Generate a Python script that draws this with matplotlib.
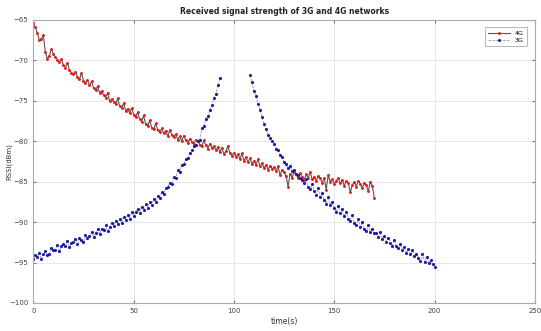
import numpy as np
import matplotlib
matplotlib.use('Agg')
import matplotlib.pyplot as plt

# 4G RSSI, one sample per second, t = 0..170
t_4g = np.arange(0, 171)
rssi_4g = [
    -65.4, -65.9, -66.6, -67.5, -67.3, -66.9, -69.0, -69.8, -69.4, -68.6, -69.2,
    -69.6, -69.9, -70.2, -69.8, -70.6, -70.9, -70.3, -71.2, -71.5, -71.7,
    -71.4, -72.0, -72.3, -71.6, -72.5, -72.8, -72.4, -73.1, -72.6, -73.4,
    -73.7, -73.2, -74.0, -73.8, -74.3, -74.6, -74.0, -75.0, -74.8, -75.1,
    -75.4, -74.7, -75.6, -75.9, -75.3, -76.2, -76.0, -76.5, -75.9, -76.7,
    -77.0, -76.4, -77.3, -77.6, -76.8, -77.9, -78.1, -77.4, -78.3, -78.5,
    -77.8, -78.6, -78.9, -78.4, -79.0, -78.7, -79.4, -78.6, -79.2, -79.5,
    -79.1, -79.8, -79.4, -80.0, -79.3, -79.9, -80.2, -79.7, -80.1, -80.3,
    -79.8, -80.0, -80.4, -80.6, -79.9, -80.5, -80.9, -80.3, -80.8, -80.6,
    -81.1, -80.7, -81.3, -80.8, -81.6, -81.2, -80.6, -81.5, -81.8, -81.4,
    -81.9, -81.6, -82.2, -81.5, -82.4, -82.0, -82.6, -82.1, -82.8, -82.4,
    -82.9, -82.2, -83.1, -82.7, -83.3, -82.9, -83.5, -83.0, -83.4, -83.2,
    -83.7, -83.1, -84.2, -83.5, -83.8, -84.3, -85.6, -84.0, -84.5, -83.8,
    -84.1, -84.6, -83.9, -84.4, -84.8, -84.1, -84.5, -83.8, -84.7, -84.4,
    -84.9, -84.3, -84.6, -85.1, -84.5, -86.0, -84.2, -85.0, -84.7, -85.3,
    -84.9, -84.5, -85.2, -84.8, -85.5, -84.9, -85.1, -86.3, -85.4, -85.0,
    -85.6, -84.9, -85.3, -85.8, -85.1, -85.4, -86.2, -85.0, -85.5, -87.0,
]

# 3G RSSI, first segment t = 0..93
t_3g_a = np.arange(0, 94)
rssi_3g_a = [
    -94.6, -94.1, -94.3, -93.8, -94.6, -94.0, -93.6, -94.1, -93.9, -93.2,
    -93.5, -93.4, -92.8, -93.6, -93.0, -92.7, -92.9, -92.3, -93.1, -92.6,
    -92.4, -92.1, -92.7, -91.9, -92.2, -92.5, -91.6, -91.9, -91.7, -91.2,
    -91.8, -91.3, -90.9, -91.5, -90.8, -91.0, -90.4, -91.1, -90.6, -90.1,
    -90.5, -89.8, -90.2, -89.6, -90.1, -89.4, -89.7, -89.1, -89.6, -88.8,
    -89.2, -88.7, -88.4, -88.9, -88.1, -88.5, -87.8, -88.2, -87.5, -87.9,
    -87.2, -87.5, -86.8, -87.0, -86.3, -86.5, -85.8, -85.7, -85.1, -85.3,
    -84.4, -84.5, -83.6, -83.8, -82.9, -82.8, -82.2, -82.1, -81.4, -81.1,
    -80.6, -80.5, -80.0, -79.8, -78.4, -78.1, -77.2, -76.9, -76.1, -75.5,
    -74.7, -74.1, -73.1, -72.2,
]

# 3G RSSI, second segment t = 108..200
t_3g_b = np.arange(108, 201)
rssi_3g_b = [
    -71.8, -72.7, -73.8, -74.4, -75.4, -76.1, -77.0, -77.9, -78.5, -79.2,
    -79.6, -80.0, -80.3, -80.9, -81.1, -81.7, -82.0, -82.6, -82.8, -83.3,
    -83.0, -83.7, -83.5, -84.1, -84.2, -84.5, -84.8, -85.2, -84.7, -85.6,
    -85.9, -85.3, -86.1, -86.6, -85.8, -86.9, -86.4, -87.3, -87.7, -86.9,
    -87.9, -87.5, -88.3, -88.7, -88.0, -88.9, -88.4, -89.3, -88.7, -89.6,
    -89.8, -89.1, -90.1, -90.3, -89.6, -90.6, -90.0, -90.8, -91.1, -90.4,
    -91.2, -90.8, -91.4, -91.3, -91.8, -91.2, -92.1, -91.7, -92.4, -91.9,
    -92.6, -92.9, -92.2, -93.0, -93.2, -92.7, -93.4, -93.1, -93.8, -93.3,
    -94.0, -93.5, -94.2, -93.9, -94.4, -94.8, -94.0, -94.9, -94.3, -95.1,
    -94.7, -95.2, -95.5,
]

# join the two 3G segments with a gap
t_3g = np.concatenate([t_3g_a, [np.nan], t_3g_b])
rssi_3g = np.concatenate([rssi_3g_a, [np.nan], rssi_3g_b])

fig = plt.figure(figsize=(5.41, 3.31), dpi=100)
ax = fig.add_axes([0.0616, 0.0846, 0.927, 0.855])

ax.plot(t_4g, rssi_4g, color='#555555', lw=0.8, marker='.', ms=2.2,
        mfc='#e02020', mec='#e02020', label='4G')
ax.plot(t_3g, rssi_3g, color='#888888', lw=0.5, ls='--', marker='.', ms=2.5,
        mfc='#1c1ca8', mec='#1c1ca8', label='3G')

ax.set_xlim(0, 250)
ax.set_ylim(-100, -65)
ax.set_xticks(np.arange(0, 251, 50))
ax.set_yticks(np.arange(-100, -64, 5))
ax.grid(True, color='#e4e4e4', lw=0.6)
ax.tick_params(direction='in', labelsize=5, colors='#777777', length=2,
               top=True, right=True, labelcolor='#444444')
for s in ax.spines.values():
    s.set_color('#aaaaaa')
    s.set_linewidth(0.8)

ax.set_title('Received signal strength of 3G and 4G networks', fontsize=5.5,
             fontweight='bold', pad=4, color='#222222')
ax.set_xlabel('time(s)', fontsize=5.5, labelpad=2, color='#333333')
ax.set_ylabel('RSSI(dBm)', fontsize=5, color='#333333')
ax.yaxis.set_label_coords(-0.042, 0.5)

leg = ax.legend(loc='upper right', fontsize=4.5, frameon=True, fancybox=False,
                borderpad=0.5, handlelength=3.5, labelspacing=0.3,
                bbox_to_anchor=(0.99, 0.985))
leg.get_frame().set_edgecolor('#999999')
leg.get_frame().set_linewidth(0.6)

plt.savefig('out.png', dpi=100)
